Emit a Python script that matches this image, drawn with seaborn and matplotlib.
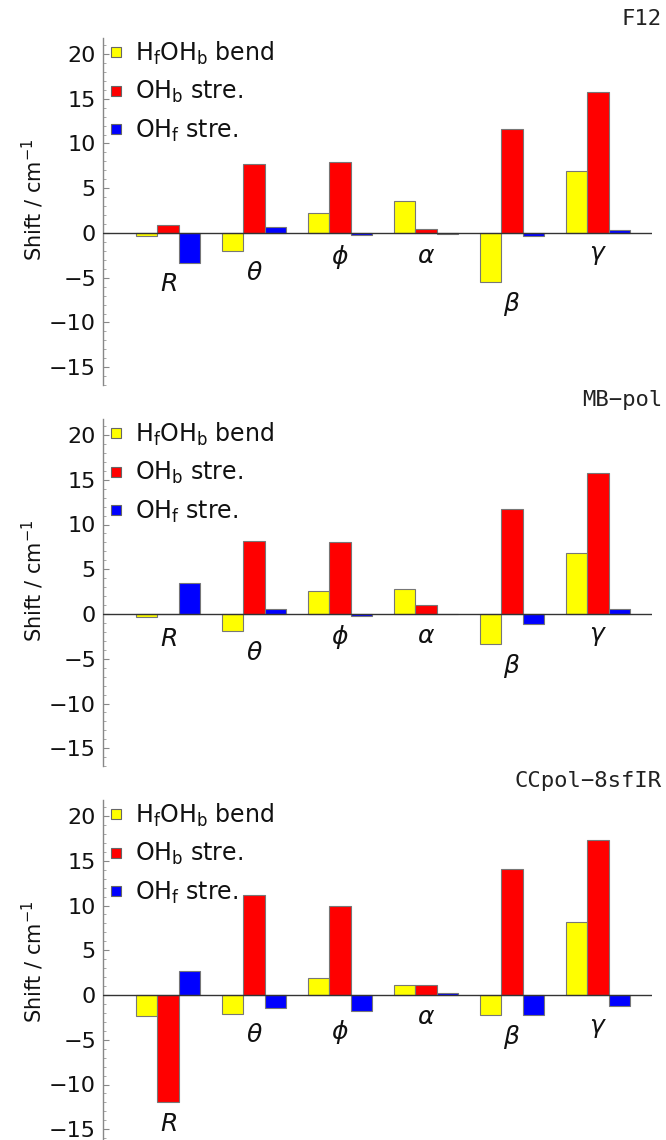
import matplotlib
matplotlib.use("Agg")
import matplotlib.pyplot as plt
from matplotlib.lines import Line2D
from matplotlib.ticker import MultipleLocator
import numpy as np
import pandas as pd
import seaborn as sns

# ---------------- data ----------------
categories = ["R", "theta", "phi", "alpha", "beta", "gamma"]
cat_labels = ["$R$", r"$\theta$", r"$\phi$", r"$\alpha$", r"$\beta$", r"$\gamma$"]
series_names = ["bend", "OHb", "OHf"]
legend_labels = [r"H$_\mathrm{f}$OH$_\mathrm{b}$ bend", r"OH$_\mathrm{b}$ stre.", r"OH$_\mathrm{f}$ stre."]
colors = ["#ffff00", "#ff0000", "#0000ff"]

panel_titles = ["F12", "MB\u2212pol", "CCpol\u22128sfIR"]

f12_bend = [-0.35, -2.05, 2.2, 3.55, -5.5, 6.95]
f12_ohb = [0.85, 7.7, 7.95, 0.5, 11.6, 15.8]
f12_ohf = [-3.3, 0.63, -0.26, -0.15, -0.33, 0.3]

mb_bend = [-0.37, -1.95, 2.54, 2.76, -3.35, 6.85]
mb_ohb = [0.0, 8.18, 8.03, 1.0, 11.7, 15.7]
mb_ohf = [3.43, 0.55, -0.18, 0.0, -1.1, 0.55]

cc_bend = [-2.35, -2.1, 1.9, 1.08, -2.24, 8.13]
cc_ohb = [-12.0, 11.15, 9.9, 1.08, 14.1, 17.35]
cc_ohf = [2.65, -1.5, -1.75, 0.22, -2.24, -1.27]

yticks = [-15, -10, -5, 0, 5, 10, 15, 20]

panels = [
    (f12_bend, f12_ohb, f12_ohf),
    (mb_bend, mb_ohb, mb_ohf),
    (cc_bend, cc_ohb, cc_ohf),
]

# ---------------- style ----------------
sns.set_style("white")
plt.rcParams["font.family"] = ["DejaVu Sans"]
plt.rcParams["mathtext.fontset"] = "dejavusans"

W, H = 666, 1140
fig = plt.figure(figsize=(W / 100, H / 100), dpi=100)

left_px, right_px = 103, 652
zero_px = [233, 614, 995]
ppu = 8.95
ytop, ybot = 21.8, -17.0

for k, (bend, ohb, ohf) in enumerate(panels):
    top_px = zero_px[k] - ytop * ppu
    bot_px = zero_px[k] - ybot * ppu
    ax = fig.add_axes([left_px / W, 1 - bot_px / H, (right_px - left_px) / W, (bot_px - top_px) / H])

    df = pd.DataFrame({
        "cat": categories * 3,
        "series": sum([[s] * len(categories) for s in series_names], []),
        "value": list(bend) + list(ohb) + list(ohf),
    })
    sns.barplot(data=df, x="cat", y="value", hue="series", order=categories,
                hue_order=series_names, palette=colors, width=0.75, errorbar=None,
                edgecolor="#777777", linewidth=0.8, saturation=1, ax=ax, legend=False, zorder=2)

    ax.set_xlim(-0.756, 5.628)
    ax.set_ylim(ybot, ytop)
    ax.axhline(0, color="#333333", lw=1.0, zorder=3)

    for s in ["top", "right", "bottom"]:
        ax.spines[s].set_visible(False)
    ax.spines["left"].set_color("#888888")
    ax.spines["left"].set_linewidth(1.0)
    ax.set_xticks([])
    ax.set_xlabel("")
    ax.set_yticks(yticks)
    ax.yaxis.set_minor_locator(MultipleLocator(1))
    ax.tick_params(axis="y", which="major", direction="in", length=4, width=0.8,
                   color="#888888", labelsize=16, pad=5.0, left=True, labelcolor="#111111")
    ax.tick_params(axis="y", which="minor", direction="in", length=2, width=0.6,
                   color="#999999", left=True)
    ax.set_yticklabels([("\u2212" + str(abs(t))) if t < 0 else str(t) for t in yticks])

    ax.set_ylabel("Shift / cm$^{-1}$", fontsize=15, color="#111111")
    ax.yaxis.set_label_coords(-0.104, 0.533)

    # category labels below the lowest bar of each group
    for i, lab in enumerate(cat_labels):
        low = min(0, bend[i], ohb[i], ohf[i])
        ax.annotate(lab, xy=(i, low), xytext=(0, -15.5), textcoords="offset points",
                    ha="center", va="center", fontsize=18, color="#111111")

    handles = [Line2D([], [], marker="s", ls="none", markersize=7.5,
                      markerfacecolor=c, markeredgecolor="#666666", markeredgewidth=0.8)
               for c in colors]
    ax.legend(handles, legend_labels, loc="upper left", bbox_to_anchor=(0.004, 0.995),
              frameon=False, borderpad=0, borderaxespad=0, handlelength=0.95,
              handletextpad=0.3, labelspacing=0.52, fontsize=17, labelcolor="#111111")

    fig.text(662 / W, 1 - (zero_px[k] - 214) / H, panel_titles[k], ha="right", va="center",
             family="DejaVu Sans Mono", fontsize=16, color="#222222")

fig.savefig("out.png", dpi=100)
